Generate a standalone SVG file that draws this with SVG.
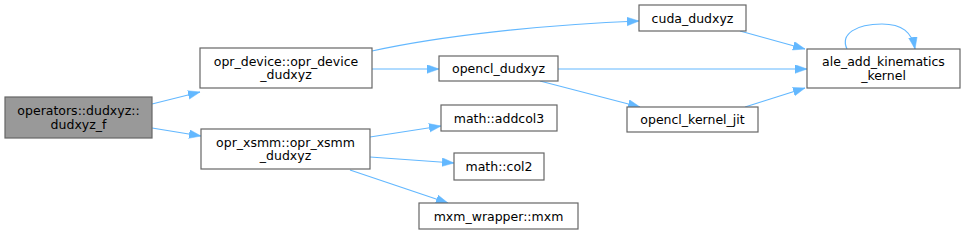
<svg xmlns="http://www.w3.org/2000/svg" width="964" height="235" viewBox="0 0 964 235">
<style>
.n rect{fill:#fff;stroke:#666;stroke-width:1.2}
.n.h rect{fill:#999}
.n text{font-family:"DejaVu Sans",sans-serif;font-size:12.5px;fill:#000;text-anchor:middle}
.e path{fill:none;stroke:#63b8ff;stroke-width:1.2;marker-end:url(#a)}
</style>
<defs>
<marker id="a" markerUnits="userSpaceOnUse" markerWidth="13" markerHeight="10" refX="12" refY="4.5" orient="auto">
<path d="M0,0.2 L12,4.5 L0,8.8 z" fill="#63b8ff" stroke="#63b8ff" stroke-width="0.5"/>
</marker>
</defs>
<rect width="964" height="235" fill="#fff"/>
<g id="edges" class="e">
<path d="M152,104 L200,92"/>
<path d="M152,128 L201,136"/>
<path d="M372,51 C440,36 540,25 639,21"/>
<path d="M372,69 L439,69"/>
<path d="M558,69 L807,69"/>
<path d="M540,81 L640,107"/>
<path d="M740,31 L805,49"/>
<path d="M745,107 L805,88"/>
<path d="M847,49 C840,34 856,24 882,24 C902,24 912,32 915,49"/>
<path d="M370,137 L441,126"/>
<path d="M370,157 L454,163"/>
<path d="M350,170 L448,203"/>
</g>
<g id="operators_dudxyz" class="n h"><rect x="5" y="97" width="147" height="41"/><text x="78.5" y="115">operators::dudxyz::</text><text x="78.5" y="128.5">dudxyz_f</text></g>
<g id="opr_device" class="n"><rect x="200" y="48" width="172" height="40"/><text x="286" y="65.5">opr_device::opr_device</text><text x="286" y="79">_dudxyz</text></g>
<g id="opr_xsmm" class="n"><rect x="201" y="129" width="169" height="40"/><text x="285.5" y="146.5">opr_xsmm::opr_xsmm</text><text x="285.5" y="160">_dudxyz</text></g>
<g id="cuda_dudxyz" class="n"><rect x="639" y="5" width="107" height="26"/><text x="692.5" y="22.5">cuda_dudxyz</text></g>
<g id="opencl_dudxyz" class="n"><rect x="439" y="56" width="119" height="25"/><text x="498.5" y="73">opencl_dudxyz</text></g>
<g id="ale_add_kinematics_kernel" class="n"><rect x="807" y="49" width="153" height="39"/><text x="883.5" y="66">ale_add_kinematics</text><text x="883.5" y="79.5">_kernel</text></g>
<g id="opencl_kernel_jit" class="n"><rect x="627" y="107" width="131" height="25"/><text x="692.5" y="124">opencl_kernel_jit</text></g>
<g id="math_addcol3" class="n"><rect x="441" y="105" width="116" height="26"/><text x="499" y="122.5">math::addcol3</text></g>
<g id="math_col2" class="n"><rect x="454" y="153" width="90" height="27"/><text x="499" y="171">math::col2</text></g>
<g id="mxm_wrapper_mxm" class="n"><rect x="419" y="203" width="159" height="26"/><text x="498.5" y="220.5">mxm_wrapper::mxm</text></g>
</svg>
